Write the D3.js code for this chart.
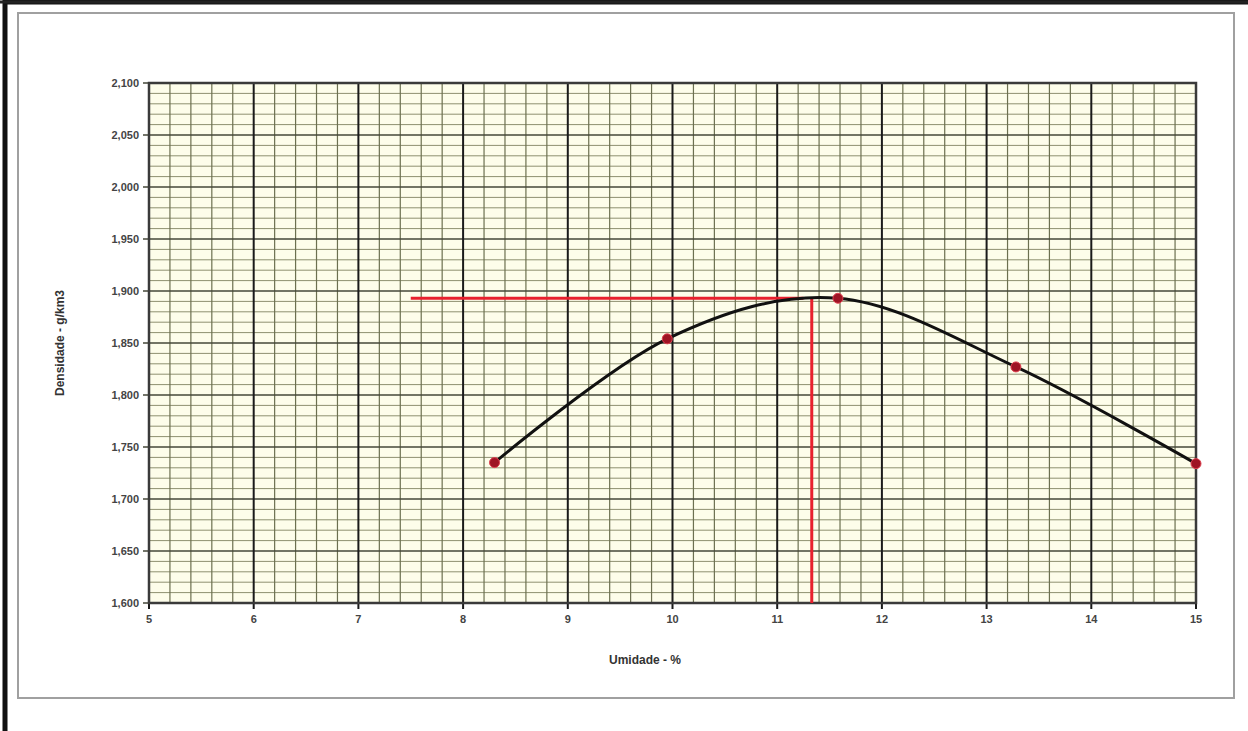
<!DOCTYPE html>
<html>
<head>
<meta charset="utf-8">
<script src="https://cdn.jsdelivr.net/npm/d3@7"></script>
<style>
  body { margin: 0; background: #fff; }
  svg { display: block; }
</style>
</head>
<body>
<div id="chart"></div>
<script>
// dados do ensaio (umidade %, densidade)
const umidade = [8.30, 9.95, 11.58, 13.28, 15.0];
const densidade = [1735, 1854, 1893, 1827, 1734];
// linhas vermelhas (umidade ótima / densidade máxima)
const hLinha = { x0: 7.5, x1: 11.25, y: 1893 };
const vLinha = { x: 11.33, y0: 1893, y1: 1600 };
const xTicks = [5, 6, 7, 8, 9, 10, 11, 12, 13, 14, 15];
const yTicks = [1600, 1650, 1700, 1750, 1800, 1850, 1900, 1950, 2000, 2050, 2100];

const W = 1248, H = 731;
const m = { left: 149, right: 1196, top: 83, bottom: 603 };

const svg = d3.select("#chart").append("svg")
  .attr("width", W).attr("height", H);

// moldura externa
svg.append("rect").attr("x", 5).attr("y", 2).attr("width", W + 10).attr("height", H + 10)
  .attr("fill", "none").attr("stroke", "#111").attr("stroke-width", 5);
svg.append("line").attr("x1", 0).attr("x2", W).attr("y1", 2).attr("y2", 2)
  .attr("stroke", "#222").attr("stroke-width", 3);

// área do gráfico
svg.append("rect").attr("x", 18).attr("y", 13).attr("width", 1216).attr("height", 685)
  .attr("fill", "#fff").attr("stroke", "#a0a0a0").attr("stroke-width", 2);

const x = d3.scaleLinear().domain([5, 15]).range([m.left, m.right]);
const y = d3.scaleLinear().domain([1600, 2100]).range([m.bottom, m.top]);

// fundo da área de plotagem
svg.append("rect")
  .attr("x", x(5)).attr("y", y(2100))
  .attr("width", x(15) - x(5)).attr("height", y(1600) - y(2100))
  .attr("fill", "#fdfdea");

const grid = svg.append("g");

// grade menor
grid.selectAll(".hmin").data(d3.range(1600, 2100.1, 10).filter(v => v % 50 !== 0))
  .join("line")
  .attr("x1", x(5)).attr("x2", x(15))
  .attr("y1", d => y(d)).attr("y2", d => y(d))
  .attr("stroke", "#8e9070").attr("stroke-width", 1);

grid.selectAll(".vmin").data(d3.range(5, 15.01, 0.2).filter(v => Math.abs(v - Math.round(v)) > 0.01))
  .join("line")
  .attr("x1", d => x(d)).attr("x2", d => x(d))
  .attr("y1", y(2100)).attr("y2", y(1600))
  .attr("stroke", "#6c7050").attr("stroke-width", 1.2);

// grade maior
grid.selectAll(".hmaj").data(yTicks)
  .join("line")
  .attr("x1", x(5) - 6).attr("x2", x(15))
  .attr("y1", d => y(d)).attr("y2", d => y(d))
  .attr("stroke", "#454738").attr("stroke-width", 1.5);

grid.selectAll(".vmaj").data(xTicks)
  .join("line")
  .attr("x1", d => x(d)).attr("x2", d => x(d))
  .attr("y1", y(2100)).attr("y2", y(1600) + 6)
  .attr("stroke", "#1a1a1a").attr("stroke-width", 2);

// borda da área de plotagem
svg.append("rect")
  .attr("x", x(5)).attr("y", y(2100))
  .attr("width", x(15) - x(5)).attr("height", y(1600) - y(2100))
  .attr("fill", "none").attr("stroke", "#3a3a3a").attr("stroke-width", 2.5);

// rótulos dos eixos
const fmt = d3.format(",");
svg.append("g").selectAll("text").data(yTicks).join("text")
  .attr("x", x(5) - 10).attr("y", d => y(d) + 4)
  .attr("text-anchor", "end")
  .style("font", "bold 11px 'Liberation Sans', Arial, sans-serif")
  .attr("fill", "#444")
  .text(d => fmt(d));

svg.append("g").selectAll("text").data(xTicks).join("text")
  .attr("x", d => x(d)).attr("y", y(1600) + 20)
  .attr("text-anchor", "middle")
  .style("font", "bold 11px 'Liberation Sans', Arial, sans-serif")
  .attr("fill", "#444")
  .text(d => d);

svg.append("text")
  .attr("x", 645).attr("y", 664)
  .attr("text-anchor", "middle")
  .style("font", "bold 12px 'Liberation Sans', Arial, sans-serif")
  .attr("fill", "#333")
  .text("Umidade - %");

svg.append("text")
  .attr("transform", `translate(64,${(m.top + m.bottom) / 2}) rotate(-90)`)
  .attr("text-anchor", "middle")
  .style("font", "bold 12px 'Liberation Sans', Arial, sans-serif")
  .attr("fill", "#333")
  .text("Densidade - g/km3");

// linhas vermelhas
svg.append("line")
  .attr("x1", x(hLinha.x0)).attr("x2", x(hLinha.x1))
  .attr("y1", y(hLinha.y)).attr("y2", y(hLinha.y))
  .attr("stroke", "#e8202e").attr("stroke-width", 3);
svg.append("line")
  .attr("x1", x(vLinha.x)).attr("x2", x(vLinha.x))
  .attr("y1", y(vLinha.y0)).attr("y2", y(vLinha.y1))
  .attr("stroke", "#e8202e").attr("stroke-width", 3);

// curva suavizada (estilo Excel)
const pts = umidade.map((u, i) => [u, densidade[i]]);
const linha = d3.line()
  .x(d => x(d[0])).y(d => y(d[1]))
  .curve(d3.curveCardinal.tension(0));

svg.append("path")
  .datum(pts)
  .attr("d", linha)
  .attr("fill", "none")
  .attr("stroke", "#111")
  .attr("stroke-width", 3);

svg.append("g").selectAll("circle").data(pts).join("circle")
  .attr("cx", d => x(d[0])).attr("cy", d => y(d[1]))
  .attr("r", 5)
  .attr("fill", "#9e1424")
  .attr("stroke", "#e04050").attr("stroke-width", 1);
</script>
</body>
</html>
